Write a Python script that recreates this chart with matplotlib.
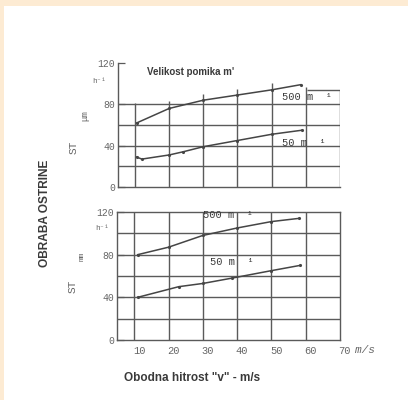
import numpy as np
import matplotlib.pyplot as plt
from matplotlib.patches import Rectangle
from matplotlib.transforms import ScaledTranslation


# cutting speed v (m/s) and tool wear for the two feed rates
v_top_500 = [10.5, 20, 30, 40, 50, 58.5]
wear_top_500 = [62, 76, 84, 89, 94, 99]
v_top_50 = [10.5, 12, 20, 24, 30, 40, 50, 59]
wear_top_50 = [29, 27, 31, 34, 39, 45, 51, 55]

v_bot_500 = [11, 20, 30, 40, 50, 58]
wear_bot_500 = [80, 87, 98, 105, 111, 114]
v_bot_50 = [11, 23, 30, 38.5, 50, 58.5]
wear_bot_50 = [40, 50, 53, 58, 65, 70]

x_ticks = [10, 20, 30, 40, 50, 60, 70]
y_ticks = [0, 40, 80, 120]
y_ticklabels = ['0', '40', '80', '120']

line_col = '#454545'
grid_col = '#5a5a5a'
text_col = '#3a3a3a'
tick_col = '#666666'
mono = ['Liberation Mono', 'DejaVu Sans Mono', 'DejaVu Sans']
sans = 'Liberation Sans'


def setupAxes(ax, full_box):
	ax.set_xlim(5, 70)
	ax.set_ylim(0, 120)
	ax.set_xticks(x_ticks)
	ax.set_yticks(y_ticks)
	ax.set_yticklabels(y_ticklabels)
	ax.tick_params(axis='y', direction='in', length=5, width=0.9, color=grid_col,
		labelsize=7, labelcolor=tick_col, pad=2)
	for lbl in ax.get_yticklabels():
		lbl.set_family(mono)
	for s in ['top', 'right']:
		ax.spines[s].set_visible(full_box)
	for s in ax.spines.values():
		s.set_color(grid_col)
		s.set_linewidth(1.0)


fig = plt.figure(figsize=(4.08, 4.0), dpi=100)
fig.patch.set_facecolor('white')

# pale border strips along the top and left edges
fig.patches.append(Rectangle((0, 0.985), 1, 0.015, transform=fig.transFigure,
	facecolor='#fdebd3', edgecolor='none'))
fig.patches.append(Rectangle((0, 0), 0.01, 1, transform=fig.transFigure,
	facecolor='#fdebd3', edgecolor='none'))

# ---- upper chart
ax1 = fig.add_axes([0.289, 0.5325, 0.544, 0.31])
setupAxes(ax1, False)
ax1.set_xticks([])
ax1.hlines([20, 40, 60, 80], 5, 70, color=grid_col, lw=1.0)
grid_top = [81, 83, 90, 95, 101, 97, 94]
for xv, yt in zip(x_ticks, grid_top):
	ax1.vlines(xv, 0, yt, color=grid_col, lw=1.0)
ax1.hlines(94, 60.5, 70, color=grid_col, lw=1.0)
ax1.plot(v_top_500, wear_top_500, '-', color=line_col, lw=1.1, marker='.', ms=2.5)
ax1.plot(v_top_50, wear_top_50, '-', color=line_col, lw=1.1, marker='.', ms=2.5)
ax1.text(53, 87, '500 m  \u00b9', fontsize=7.5, family=mono, color=text_col,
	va='center')
ax1.text(53, 43, '50 m  \u00b9', fontsize=7.5, family=mono, color=text_col,
	va='center')
ax1.text(13.5, 111, "Velikost pomika m'", fontsize=7, family=sans, weight='bold',
	color=text_col, va='center')
ax1.text(-2.5, 102, 'h\u207b\u00b9', fontsize=5.5, family=mono, color=tick_col,
	va='center')
ax1.text(-8, 38, 'ST', fontsize=8, family=mono, color=tick_col, rotation=90,
	va='center', ha='center')
ax1.text(-4.8, 69, '\u03bcm', fontsize=6.5, family=mono, color=tick_col, rotation=90,
	va='center', ha='center')

# ---- lower chart
ax2 = fig.add_axes([0.287, 0.15, 0.546, 0.32])
setupAxes(ax2, True)
ax2.hlines([20, 40, 60, 80, 100], 5, 70, color=grid_col, lw=1.0)
ax2.vlines(x_ticks[:-1], 0, 120, color=grid_col, lw=1.0)
ax2.plot(v_bot_500, wear_bot_500, '-', color=line_col, lw=1.1, marker='.', ms=2.5)
ax2.plot(v_bot_50, wear_bot_50, '-', color=line_col, lw=1.1, marker='.', ms=2.5)
ax2.text(30, 117, '500 m  \u00b9', fontsize=7.5, family=mono, color=text_col,
	va='center')
ax2.text(32, 73, '50 m  \u00b9', fontsize=7.5, family=mono, color=text_col,
	va='center')
ax2.text(-1.5, 105, 'h\u207b\u00b9', fontsize=5.5, family=mono, color=tick_col,
	va='center')
ax2.text(-8, 50, 'ST', fontsize=8, family=mono, color=tick_col, rotation=90,
	va='center', ha='center')
ax2.text(-5.2, 78, 'mm', fontsize=5.5, family=mono, color=tick_col, rotation=90,
	va='center', ha='center')

ax2.tick_params(axis='x', length=0, labelsize=7.5, labelcolor=tick_col, pad=4)
shift = ScaledTranslation(5 / 100, 0, fig.dpi_scale_trans)
for lbl in ax2.get_xticklabels():
	lbl.set_family(mono)
	lbl.set_transform(lbl.get_transform() + shift)
ax2.text(74.5, -9, 'm/s', fontsize=8, family=mono, style='italic', color=tick_col,
	va='center')
ax2.text(7, -35.5, 'Obodna hitrost "v" - m/s', fontsize=8.5, family=sans,
	weight='bold', color=text_col, va='center')

fig.text(0.11, 0.4675, 'OBRABA OSTRINE', fontsize=8.6, family=sans, weight='bold',
	color=text_col, rotation=90, va='center', ha='center')

fig.savefig('out.png', dpi=100)
